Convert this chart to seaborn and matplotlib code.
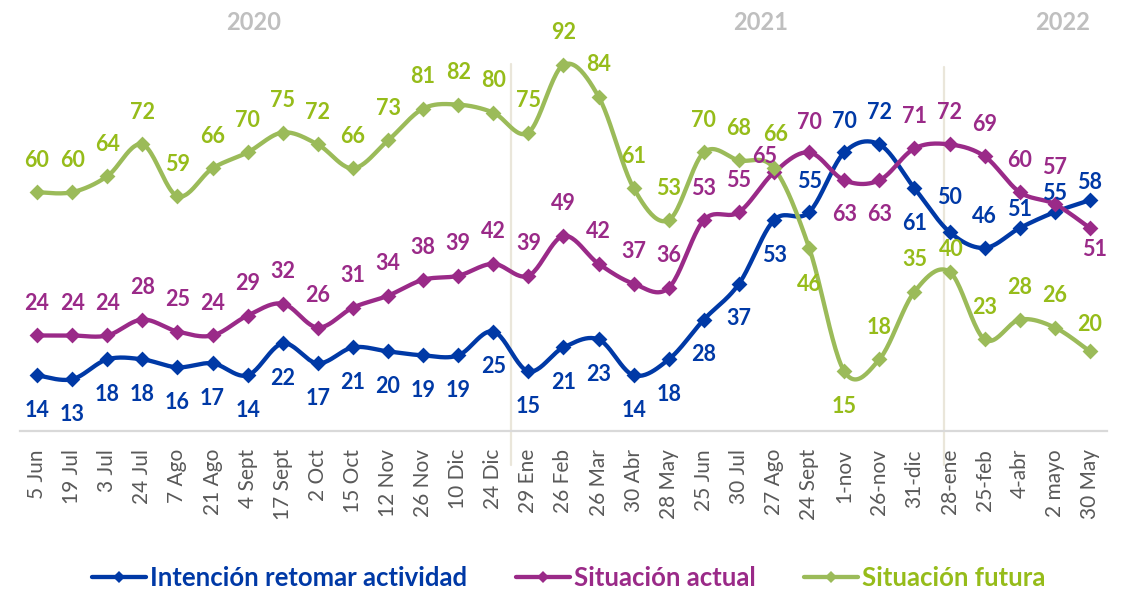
import numpy as np
import pandas as pd
import seaborn as sns
import matplotlib.pyplot as plt
from matplotlib.lines import Line2D

# ---- data -----------------------------------------------------------------
fechas = ["5 Jun", "19 Jul", "3 Jul", "24 Jul", "7 Ago", "21 Ago", "4 Sept",
          "17 Sept", "2 Oct", "15 Oct", "12 Nov", "26 Nov", "10 Dic", "24 Dic",
          "29 Ene", "26 Feb", "26 Mar", "30 Abr", "28 May", "25 Jun", "30 Jul",
          "27 Ago", "24 Sept", "1-nov", "26-nov", "31-dic", "28-ene", "25-feb",
          "4-abr", "2 mayo", "30 May"]

intencion = [14, 13, 18, 18, 16, 17, 14, 22, 17, 21, 20, 19, 19, 25, 15, 21,
             23, 14, 18, 28, 37, 53, 55, 70, 72, 61, 50, 46, 51, 55, 58]
actual = [24, 24, 24, 28, 25, 24, 29, 32, 26, 31, 34, 38, 39, 42, 39, 49,
          42, 37, 36, 53, 55, 65, 70, 63, 63, 71, 72, 69, 60, 57, 51]
futura = [60, 60, 64, 72, 59, 66, 70, 75, 72, 66, 73, 81, 82, 80, 75, 92,
          84, 61, 53, 70, 68, 66, 46, 15, 18, 35, 40, 23, 28, 26, 20]

series = ["Intención retomar actividad", "Situación actual", "Situación futura"]
years = ["2020", "2021", "2022"]

# ---- styling ----------------------------------------------------------------
line_colors = {series[0]: "#0039A6", series[1]: "#9A2A88", series[2]: "#9BBB59"}
text_colors = {series[0]: "#0039A6", series[1]: "#9A2A88", series[2]: "#96BC1A"}

# label offsets in pixels (dx, dy); default is above the point
UP, DOWN = (0, 32), (0, -35)
label_offsets = {
    series[0]: [DOWN] * 22 + [(0, 31), (0, 31), (0, 32), (0, -35), (0, 34),
                              (0, 31), (0, 19), (0, 19), (0, 18)],
    series[1]: [UP] * 21 + [(-9, 16), (0, 30), (0, -34), (0, -34)]
               + [UP] * 4 + [(0, 37), (5, -21)],
    series[2]: [UP] * 21 + [(2, 34), (0, -37), (0, -35), UP, UP, (2, 22),
                            UP, UP, UP, (0, 27)],
}

sns.set_theme(style="white")
plt.rcParams["font.family"] = ["Lato", "DejaVu Sans"]


def smooth(values, steps=24):
    """Bezier smoothing through every point (Catmull-Rom style tangents)."""
    pts = np.column_stack([np.arange(len(values)), np.asarray(values, float)])
    ext = np.vstack([pts[0], pts, pts[-1]])
    out = []
    t = np.linspace(0, 1, steps, endpoint=False)[:, None]
    for i in range(len(pts) - 1):
        p0, p3 = ext[i + 1], ext[i + 2]
        c1 = p0 + (ext[i + 2] - ext[i]) / 6.0
        c2 = p3 - (ext[i + 3] - ext[i + 1]) / 6.0
        seg = ((1 - t) ** 3) * p0 + 3 * ((1 - t) ** 2) * t * c1 \
            + 3 * (1 - t) * t ** 2 * c2 + t ** 3 * p3
        out.append(seg)
    out.append(pts[-1][None, :])
    return np.vstack(out)


values = {series[0]: intencion, series[1]: actual, series[2]: futura}

points = pd.concat([
    pd.DataFrame({"pos": np.arange(len(fechas)), "valor": v, "serie": s})
    for s, v in values.items()
], ignore_index=True)

curves = pd.concat([
    pd.DataFrame(smooth(v), columns=["x", "y"]).assign(serie=s)
    for s, v in values.items()
], ignore_index=True)

fig = plt.figure(figsize=(11.35, 5.94), dpi=100)
ax = fig.add_axes([19.5 / 1135, 163 / 594, 1088 / 1135, 398 / 594])

# separators between years
for xpos, top in [(13.5, 92.3), (25.85, 91.5)]:
    ax.plot([xpos, xpos], [top, -8.6], color="#EAE6DA", lw=1.6,
            clip_on=False, zorder=0)

for s in series:
    sns.lineplot(data=curves[curves.serie == s], x="x", y="y", sort=False,
                 estimator=None, color=line_colors[s], lw=3.1, ax=ax,
                 legend=False, zorder=2)
    sns.scatterplot(data=points[points.serie == s], x="pos", y="valor",
                    marker="D", s=65, color=line_colors[s], linewidth=0,
                    ax=ax, legend=False, zorder=3)
    for i, v in enumerate(values[s]):
        dx, dy = label_offsets[s][i]
        ax.annotate(f"{v}", (i, v), xytext=(dx, dy),
                    textcoords="offset pixels", ha="center", va="center",
                    fontsize=15.5, fontweight="bold", color=text_colors[s],
                    zorder=4)

ax.set_xlim(-0.5, len(fechas) - 0.5)
ax.set_ylim(0, 100)
ax.set_xticks(np.arange(len(fechas)))
ax.set_xticklabels(fechas, rotation=90, fontsize=15, color="#595959")
ax.tick_params(axis="x", length=0, pad=13)
ax.set_yticks([])
ax.set_xlabel("")
ax.set_ylabel("")
for side in ["left", "right", "top"]:
    ax.spines[side].set_visible(False)
ax.spines["bottom"].set_color("#D9D9D9")
ax.spines["bottom"].set_linewidth(1.6)

for label, xf in zip(years, [254, 761, 1063]):
    fig.text(xf / 1135, 1 - 22 / 594, label, ha="center", va="center",
             fontsize=17, fontweight="bold", color="#BFBFBF")

handles = [Line2D([], [], color=line_colors[s], lw=3.1, marker="D",
                  markersize=6, markeredgewidth=0) for s in series]
leg = fig.legend(handles, series, loc="center", ncol=3,
                 bbox_to_anchor=(569 / 1135, 1 - 578 / 594), frameon=False,
                 handlelength=2.1, handletextpad=0.15, columnspacing=1.9,
                 prop={"size": 18.5, "weight": "bold"})
for txt, s in zip(leg.get_texts(), series):
    txt.set_color(text_colors[s])

fig.savefig("out.png", dpi=100)
